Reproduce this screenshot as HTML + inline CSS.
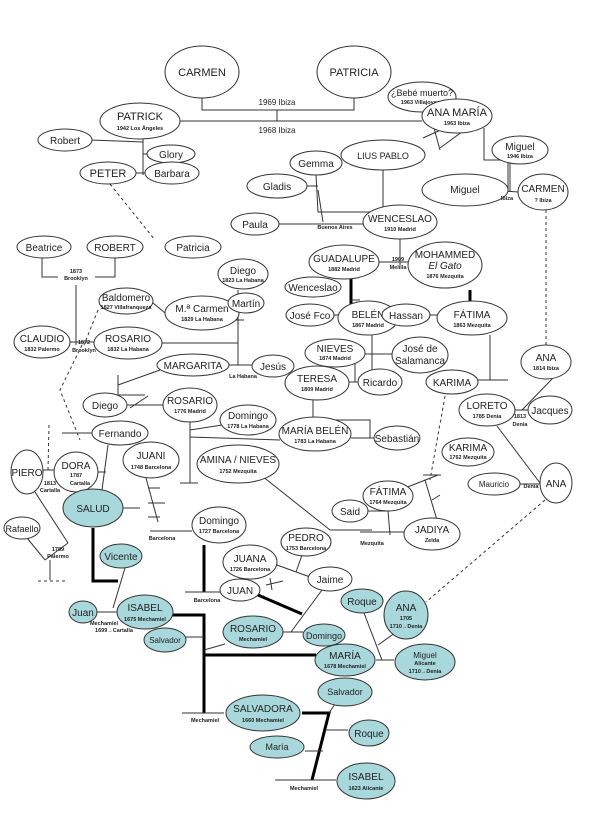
<!DOCTYPE html>
<html><head><meta charset="utf-8"><style>
html,body{margin:0;padding:0;background:#fff}
svg{display:block}
text{font-family:"Liberation Sans",sans-serif;fill:#222}
.n{font-size:11px;text-anchor:middle}
.s{font-size:5.5px;text-anchor:middle;font-weight:bold}
ellipse{fill:#fff;stroke:#333;stroke-width:1}
ellipse.b{fill:#a9d8dc}
line,polyline{stroke:#333;stroke-width:1;fill:none}
.t{stroke:#000;stroke-width:3}
.d{stroke-dasharray:3,3}
</style></head><body>
<svg width="600" height="814" viewBox="0 0 600 814">
<!-- lines -->
<polyline points="202,98 202,110 354,110 354,98"/>
<line x1="277" y1="110" x2="277" y2="121"/>
<line x1="180" y1="121" x2="422" y2="121"/>
<polyline points="432,112 434,128 440,150"/>
<line x1="440" y1="148" x2="470" y2="126"/>
<line x1="423" y1="138" x2="445" y2="128"/>
<line x1="90" y1="140" x2="143" y2="142"/>
<line x1="143" y1="139" x2="143" y2="175"/>
<line x1="143" y1="154" x2="148" y2="154"/>
<line x1="136" y1="173" x2="146" y2="173"/>
<line x1="110" y1="184" x2="155" y2="240" class="d"/>
<line x1="221" y1="247" x2="165" y2="247"/>
<polyline points="316,175 318,212 383,212 383,170"/>
<line x1="307" y1="186" x2="318" y2="186"/>
<line x1="318" y1="190" x2="323" y2="222"/>
<line x1="279" y1="224" x2="363" y2="224"/>
<line x1="400" y1="239" x2="400" y2="265"/>
<line x1="379" y1="262" x2="408" y2="262"/>
<polyline points="484,128 484,160 510,160 510,192"/>
<line x1="508" y1="160" x2="508" y2="192"/>
<line x1="508" y1="164" x2="508" y2="150"/>
<line x1="492" y1="190" x2="518" y2="192"/>
<line x1="546" y1="210" x2="546" y2="345" class="d"/>
<polyline points="42,258 42,277 58,277"/>
<polyline points="95,277 115,277 115,258"/>
<line x1="76" y1="285" x2="76" y2="345"/>
<line x1="98" y1="310" x2="84" y2="345" class="d"/>
<polyline points="82,345 60,390 80,440" class="d"/>
<line x1="153" y1="303" x2="165" y2="313"/>
<line x1="238" y1="290" x2="238" y2="365"/>
<line x1="230" y1="305" x2="245" y2="305"/>
<line x1="230" y1="320" x2="244" y2="320"/>
<line x1="162" y1="343" x2="238" y2="343"/>
<line x1="70" y1="342" x2="94" y2="342"/>
<line x1="229" y1="365" x2="252" y2="365"/>
<polyline points="118,375 118,395 145,395"/>
<line x1="118" y1="385" x2="160" y2="370"/>
<line x1="130" y1="408" x2="148" y2="396"/>
<line x1="127" y1="405" x2="163" y2="405"/>
<line x1="62" y1="433" x2="92" y2="433"/>
<line x1="190" y1="422" x2="190" y2="483"/>
<line x1="190" y1="430" x2="222" y2="425"/>
<line x1="190" y1="437" x2="280" y2="440"/>
<line x1="180" y1="483" x2="198" y2="483"/>
<line x1="351" y1="279" x2="351" y2="320" class="t"/>
<line x1="351" y1="300" x2="360" y2="300"/>
<line x1="334" y1="315" x2="351" y2="315"/>
<line x1="372" y1="335" x2="372" y2="370"/>
<line x1="365" y1="354" x2="392" y2="354"/>
<line x1="355" y1="358" x2="355" y2="382"/>
<line x1="349" y1="382" x2="358" y2="382"/>
<polyline points="313,400 313,420 370,420 370,438 374,438"/>
<line x1="351" y1="438" x2="374" y2="438"/>
<line x1="470" y1="290" x2="470" y2="310" class="t"/>
<line x1="430" y1="315" x2="437" y2="315"/>
<line x1="490" y1="335" x2="490" y2="380"/>
<line x1="478" y1="380" x2="508" y2="380"/>
<line x1="445" y1="396" x2="430" y2="480" class="d"/>
<line x1="423" y1="475" x2="441" y2="475"/>
<line x1="425" y1="480" x2="437" y2="520"/>
<line x1="432" y1="500" x2="440" y2="495"/>
<line x1="420" y1="520" x2="440" y2="520"/>
<line x1="400" y1="490" x2="438" y2="475"/>
<line x1="388" y1="511" x2="390" y2="535"/>
<line x1="368" y1="511" x2="390" y2="511"/>
<line x1="360" y1="532" x2="406" y2="532"/>
<line x1="262" y1="476" x2="330" y2="530"/>
<line x1="330" y1="530" x2="372" y2="530"/>
<line x1="553" y1="378" x2="522" y2="410"/>
<line x1="515" y1="410" x2="528" y2="410"/>
<line x1="497" y1="426" x2="540" y2="483"/>
<line x1="520" y1="484" x2="542" y2="484"/>
<line x1="545" y1="500" x2="426" y2="602" class="d"/>
<line x1="40" y1="470" x2="56" y2="470"/>
<line x1="49" y1="425" x2="48" y2="470" class="d"/>
<line x1="98" y1="472" x2="106" y2="472"/>
<line x1="108" y1="445" x2="102" y2="490"/>
<line x1="35" y1="492" x2="68" y2="543"/>
<polyline points="27,538 45,560 68,543"/>
<line x1="50" y1="560" x2="50" y2="580"/>
<line x1="38" y1="581" x2="66" y2="581" class="d"/>
<line x1="123" y1="508" x2="140" y2="508"/>
<line x1="146" y1="478" x2="158" y2="522"/>
<line x1="148" y1="488" x2="160" y2="488"/>
<line x1="148" y1="503" x2="165" y2="503"/>
<line x1="148" y1="517" x2="160" y2="517"/>
<line x1="150" y1="531" x2="192" y2="531"/>
<!-- bottom -->
<polyline points="93,528 93,581 118,581" class="t"/>
<line x1="125" y1="568" x2="113" y2="608"/>
<line x1="97" y1="612" x2="118" y2="612"/>
<line x1="204" y1="545" x2="204" y2="592" class="t"/>
<line x1="185" y1="592" x2="221" y2="592"/>
<line x1="277" y1="565" x2="310" y2="577"/>
<line x1="302" y1="555" x2="296" y2="572"/>
<line x1="266" y1="585" x2="283" y2="581"/>
<line x1="270" y1="578" x2="272" y2="590"/>
<line x1="258" y1="595" x2="302" y2="614" class="t"/>
<line x1="322" y1="590" x2="291" y2="632"/>
<line x1="283" y1="632" x2="303" y2="632"/>
<polyline points="172,615 204,615 204,713" class="t"/>
<line x1="186" y1="637" x2="204" y2="637"/>
<line x1="204" y1="650" x2="225" y2="644"/>
<line x1="204" y1="655" x2="316" y2="655" class="t"/>
<line x1="376" y1="660" x2="394" y2="660"/>
<line x1="364" y1="613" x2="382" y2="660"/>
<line x1="395" y1="633" x2="378" y2="645"/>
<line x1="182" y1="713" x2="224" y2="713"/>
<polyline points="302,713 329,713 312,780" class="t"/>
<line x1="329" y1="713" x2="335" y2="704"/>
<line x1="325" y1="730" x2="348" y2="730"/>
<line x1="305" y1="751" x2="323" y2="751"/>
<line x1="275" y1="780" x2="336" y2="780"/>
<!-- nodes -->
<ellipse cx="202" cy="72" rx="37" ry="26"/><text class="n" x="202" y="76">CARMEN</text>
<ellipse cx="354" cy="72" rx="37" ry="26"/><text class="n" x="354" y="76">PATRICIA</text>
<text class="n" x="277" y="105" style="font-size:8px">1969 Ibiza</text>
<text class="n" x="277" y="133" style="font-size:8px">1968 Ibiza</text>
<ellipse cx="140" cy="121" rx="40" ry="18"/><text class="n" x="140" y="120">PATRICK</text><text class="s" x="140" y="130">1942 Los Ángeles</text>
<ellipse cx="422" cy="97" rx="34" ry="15"/><text class="n" x="422" y="96" style="font-size:9px">¿Bebé muerto?</text><text class="s" x="422" y="104">1963 Villajoyosa</text>
<ellipse cx="457" cy="116" rx="35" ry="17"/><text class="n" x="457" y="116">ANA MARÍA</text><text class="s" x="457" y="125">1963 Ibiza</text>
<ellipse cx="65" cy="140" rx="27" ry="11"/><text class="n" x="65" y="144" style="font-size:10px">Robert</text>
<ellipse cx="171" cy="154" rx="24" ry="9"/><text class="n" x="171" y="158" style="font-size:10px">Glory</text>
<ellipse cx="108" cy="173" rx="28" ry="11"/><text class="n" x="108" y="177">PETER</text>
<ellipse cx="172" cy="173" rx="27" ry="11"/><text class="n" x="172" y="177" style="font-size:10px">Barbara</text>
<ellipse cx="383" cy="155" rx="42" ry="15"/><text class="n" x="383" y="159" style="font-size:9px">LIUS PABLO</text>
<ellipse cx="316" cy="163" rx="26" ry="12"/><text class="n" x="316" y="167" style="font-size:10px">Gemma</text>
<ellipse cx="277" cy="186" rx="30" ry="12"/><text class="n" x="277" y="190" style="font-size:10px">Gladis</text>
<ellipse cx="255" cy="224" rx="24" ry="11"/><text class="n" x="255" y="228" style="font-size:10px">Paula</text>
<text class="s" x="335" y="229">Buenos Aires</text>
<ellipse cx="400" cy="222" rx="37" ry="17"/><text class="n" x="400" y="222" style="font-size:10px">WENCESLAO</text><text class="s" x="400" y="231">1910 Madrid</text>
<ellipse cx="520" cy="150" rx="28" ry="14"/><text class="n" x="520" y="150" style="font-size:10px">Miguel</text><text class="s" x="520" y="158">1946 Ibiza</text>
<ellipse cx="465" cy="190" rx="43" ry="16"/><text class="n" x="465" y="193" style="font-size:10px">Miguel</text>
<text class="s" x="507" y="200">Ibiza</text>
<ellipse cx="543" cy="192" rx="25" ry="18"/><text class="n" x="543" y="192" style="font-size:10px">CARMEN</text><text class="s" x="543" y="202">? Ibiza</text>
<ellipse cx="44" cy="247" rx="27" ry="11"/><text class="n" x="44" y="251" style="font-size:10px">Beatrice</text>
<ellipse cx="115" cy="247" rx="28" ry="11"/><text class="n" x="115" y="251" style="font-size:10px">ROBERT</text>
<ellipse cx="193" cy="247" rx="28" ry="11"/><text class="n" x="193" y="251" style="font-size:10px">Patricia</text>
<text class="s" x="76" y="273">1873</text><text class="s" x="76" y="280">Brooklyn</text>
<ellipse cx="344" cy="262" rx="35" ry="17"/><text class="n" x="344" y="262" style="font-size:10px">GUADALUPE</text><text class="s" x="344" y="271">1882 Madrid</text>
<text class="s" x="398" y="261">1909</text><text class="s" x="398" y="269">Melilla</text>
<ellipse cx="445" cy="265" rx="37" ry="23"/><text class="n" x="445" y="258" style="font-size:10px">MOHAMMED</text><text class="n" x="445" y="269" style="font-size:10px;font-style:italic">El Gato</text><text class="s" x="445" y="278">1876 Mezquita</text>
<ellipse cx="243" cy="274" rx="25" ry="15"/><text class="n" x="243" y="274" style="font-size:10px">Diego</text><text class="s" x="243" y="282">1823 La Habana</text>
<ellipse cx="313" cy="287" rx="28" ry="10"/><text class="n" x="313" y="291" style="font-size:10px">Wenceslao</text>
<ellipse cx="126" cy="301" rx="27" ry="13"/><text class="n" x="126" y="301" style="font-size:10px">Baldomero</text><text class="s" x="126" y="309">1827 Villafranqueza</text>
<ellipse cx="202" cy="313" rx="37" ry="17"/><text class="n" x="202" y="312" style="font-size:10px">M.ª Carmen</text><text class="s" x="202" y="321">1829 La Habana</text>
<ellipse cx="246" cy="303" rx="18" ry="10"/><text class="n" x="246" y="307" style="font-size:10px">Martín</text>
<ellipse cx="310" cy="315" rx="24" ry="11"/><text class="n" x="310" y="319" style="font-size:10px">José Fco</text>
<ellipse cx="368" cy="318" rx="30" ry="17"/><text class="n" x="368" y="318" style="font-size:10px">BELÉN</text><text class="s" x="368" y="327">1867 Madrid</text>
<ellipse cx="406" cy="315" rx="24" ry="11"/><text class="n" x="406" y="319" style="font-size:10px">Hassan</text>
<ellipse cx="472" cy="318" rx="35" ry="17"/><text class="n" x="472" y="318" style="font-size:10px">FÁTIMA</text><text class="s" x="472" y="327">1863 Mezquita</text>
<ellipse cx="42" cy="342" rx="28" ry="16"/><text class="n" x="42" y="342" style="font-size:10px">CLAUDIO</text><text class="s" x="42" y="351">1832 Palermo</text>
<text class="s" x="84" y="344">1872</text><text class="s" x="84" y="352">Brooklyn</text>
<ellipse cx="128" cy="343" rx="34" ry="16"/><text class="n" x="128" y="342" style="font-size:10px">ROSARIO</text><text class="s" x="128" y="351">1832 La Habana</text>
<ellipse cx="335" cy="353" rx="30" ry="14"/><text class="n" x="335" y="352" style="font-size:10px">NIEVES</text><text class="s" x="335" y="360">1874 Madrid</text>
<ellipse cx="420" cy="355" rx="28" ry="18"/><text class="n" x="420" y="352" style="font-size:10px">José de</text><text class="n" x="420" y="364" style="font-size:10px">Salamanca</text>
<ellipse cx="193" cy="365" rx="36" ry="11"/><text class="n" x="193" y="369" style="font-size:10px">MARGARITA</text>
<ellipse cx="273" cy="366" rx="21" ry="11"/><text class="n" x="273" y="370" style="font-size:10px">Jesús</text>
<text class="s" x="243" y="378">La Habana</text>
<ellipse cx="546" cy="362" rx="25" ry="17"/><text class="n" x="546" y="361" style="font-size:10px">ANA</text><text class="s" x="546" y="370">1814 Ibiza</text>
<ellipse cx="317" cy="383" rx="32" ry="17"/><text class="n" x="317" y="382" style="font-size:10px">TERESA</text><text class="s" x="317" y="391">1809 Madrid</text>
<ellipse cx="380" cy="382" rx="22" ry="13"/><text class="n" x="380" y="386" style="font-size:10px">Ricardo</text>
<ellipse cx="452" cy="382" rx="26" ry="12"/><text class="n" x="452" y="386" style="font-size:10px">KARIMA</text>
<ellipse cx="105" cy="405" rx="22" ry="12"/><text class="n" x="105" y="409" style="font-size:10px">Diego</text>
<ellipse cx="190" cy="405" rx="27" ry="17"/><text class="n" x="190" y="404" style="font-size:10px">ROSARIO</text><text class="s" x="190" y="413">1776 Madrid</text>
<ellipse cx="487" cy="410" rx="28" ry="16"/><text class="n" x="487" y="409" style="font-size:10px">LORETO</text><text class="s" x="487" y="418">1785 Denia</text>
<ellipse cx="550" cy="410" rx="22" ry="14"/><text class="n" x="550" y="414" style="font-size:10px">Jacques</text>
<text class="s" x="520" y="418">1813</text><text class="s" x="520" y="426">Denia</text>
<ellipse cx="248" cy="420" rx="28" ry="15"/><text class="n" x="248" y="419" style="font-size:10px">Domingo</text><text class="s" x="248" y="428">1778 La Habana</text>
<ellipse cx="120" cy="433" rx="28" ry="12"/><text class="n" x="120" y="437" style="font-size:10px">Fernando</text>
<ellipse cx="315" cy="434" rx="36" ry="17"/><text class="n" x="315" y="434" style="font-size:10px">MARÍA BELÉN</text><text class="s" x="315" y="443">1783 La Habana</text>
<ellipse cx="397" cy="438" rx="23" ry="12"/><text class="n" x="397" y="442" style="font-size:10px">Sebastián</text>
<ellipse cx="151" cy="460" rx="28" ry="18"/><text class="n" x="151" y="459" style="font-size:10px">JUANI</text><text class="s" x="151" y="469">1748 Barcelona</text>
<ellipse cx="238" cy="464" rx="41" ry="19"/><text class="n" x="238" y="463" style="font-size:10px">AMINA / NIEVES</text><text class="s" x="238" y="473">1752 Mezquita</text>
<ellipse cx="468" cy="452" rx="26" ry="14"/><text class="n" x="468" y="451" style="font-size:10px">KARIMA</text><text class="s" x="468" y="459">1762 Mezquita</text>
<ellipse cx="27" cy="472" rx="16" ry="22"/><text class="n" x="27" y="476" style="font-size:10px">PIERO</text>
<ellipse cx="76" cy="472" rx="22" ry="20"/><text class="n" x="76" y="469" style="font-size:10px">DORA</text><text class="s" x="76" y="477">1787</text><text class="s" x="80" y="485">Cartalla</text>
<text class="s" x="50" y="485">1813</text><text class="s" x="50" y="492">Cartalla</text>
<ellipse cx="494" cy="484" rx="26" ry="11"/><text class="n" x="494" y="487" style="font-size:8px">Mauricio</text>
<text class="s" x="531" y="488">Denia</text>
<ellipse cx="556" cy="483" rx="16" ry="20"/><text class="n" x="556" y="487" style="font-size:10px">ANA</text>
<ellipse class="b" cx="93" cy="508" rx="30" ry="19"/><text class="n" x="93" y="512" style="font-size:10px">SALUD</text>
<ellipse cx="388" cy="496" rx="25" ry="15"/><text class="n" x="388" y="495" style="font-size:10px">FÁTIMA</text><text class="s" x="388" y="504">1764 Mezquita</text>
<ellipse cx="350" cy="511" rx="18" ry="11"/><text class="n" x="350" y="515" style="font-size:10px">Said</text>
<ellipse cx="432" cy="534" rx="28" ry="16"/><text class="n" x="432" y="533" style="font-size:10px">JADIYA</text><text class="s" x="432" y="542">Zelda</text>
<text class="s" x="372" y="545">Mezquita</text>
<ellipse cx="22" cy="528" rx="18" ry="11"/><text class="n" x="22" y="532" style="font-size:9px">Rafaello</text>
<text class="s" x="58" y="551">1789</text><text class="s" x="58" y="558">Palermo</text>
<ellipse cx="219" cy="525" rx="27" ry="18"/><text class="n" x="219" y="524" style="font-size:10px">Domingo</text><text class="s" x="219" y="533">1727 Barcelona</text>
<text class="s" x="162" y="540">Barcelona</text>
<ellipse cx="306" cy="542" rx="25" ry="14"/><text class="n" x="306" y="541" style="font-size:10px">PEDRO</text><text class="s" x="306" y="550">1753 Barcelona</text>
<ellipse class="b" cx="121" cy="556" rx="21" ry="12"/><text class="n" x="121" y="560" style="font-size:10px">Vicente</text>
<ellipse cx="250" cy="562" rx="27" ry="17"/><text class="n" x="250" y="562" style="font-size:10px">JUANA</text><text class="s" x="250" y="571">1726 Barcelona</text>
<ellipse cx="330" cy="579" rx="22" ry="12"/><text class="n" x="330" y="583" style="font-size:10px">Jaime</text>
<ellipse cx="240" cy="590" rx="20" ry="11"/><text class="n" x="240" y="594" style="font-size:10px">JUAN</text>
<text class="s" x="207" y="602">Barcelona</text>
<ellipse class="b" cx="362" cy="601" rx="21" ry="12"/><text class="n" x="362" y="605" style="font-size:10px">Roque</text>
<ellipse class="b" cx="406" cy="615" rx="22" ry="24"/><text class="n" x="406" y="611" style="font-size:10px">ANA</text><text class="s" x="406" y="620">1705</text><text class="s" x="406" y="628">1710→Denia</text>
<ellipse class="b" cx="83" cy="612" rx="14" ry="11"/><text class="n" x="83" y="616" style="font-size:10px">Juan</text>
<ellipse class="b" cx="145" cy="612" rx="28" ry="17"/><text class="n" x="145" y="611" style="font-size:10px">ISABEL</text><text class="s" x="145" y="621">1675 Mechamiel</text>
<text class="s" x="104" y="625">Mechamiel</text><text class="s" x="114" y="632">1699→Cartalla</text>
<ellipse class="b" cx="165" cy="640" rx="21" ry="12"/><text class="n" x="165" y="643" style="font-size:8px">Salvador</text>
<ellipse class="b" cx="253" cy="632" rx="30" ry="16"/><text class="n" x="253" y="632" style="font-size:10px">ROSARIO</text><text class="s" x="253" y="641">Mechamiel</text>
<ellipse class="b" cx="324" cy="635" rx="21" ry="11"/><text class="n" x="324" y="639" style="font-size:9px">Domingo</text>
<ellipse class="b" cx="345" cy="660" rx="30" ry="16"/><text class="n" x="345" y="659" style="font-size:10px">MARÍA</text><text class="s" x="345" y="668">1678 Mechamiel</text>
<ellipse class="b" cx="425" cy="662" rx="30" ry="18"/><text class="n" x="425" y="658" style="font-size:8px">Miguel</text><text class="s" x="425" y="665">Alicante</text><text class="s" x="425" y="673">1710→Denia</text>
<ellipse class="b" cx="345" cy="692" rx="27" ry="14"/><text class="n" x="345" y="695" style="font-size:9px">Salvador</text>
<ellipse class="b" cx="263" cy="713" rx="37" ry="18"/><text class="n" x="263" y="712" style="font-size:10px">SALVADORA</text><text class="s" x="263" y="722">1660 Mechamiel</text>
<text class="s" x="205" y="722">Mechamiel</text>
<ellipse class="b" cx="369" cy="733" rx="20" ry="13"/><text class="n" x="369" y="737" style="font-size:10px">Roque</text>
<ellipse class="b" cx="277" cy="747" rx="27" ry="11"/><text class="n" x="277" y="750" style="font-size:9px">María</text>
<ellipse class="b" cx="366" cy="781" rx="29" ry="18"/><text class="n" x="366" y="780" style="font-size:10px">ISABEL</text><text class="s" x="366" y="790">1623 Alicante</text>
<text class="s" x="304" y="790">Mechamiel</text>
</svg>
</body></html>
